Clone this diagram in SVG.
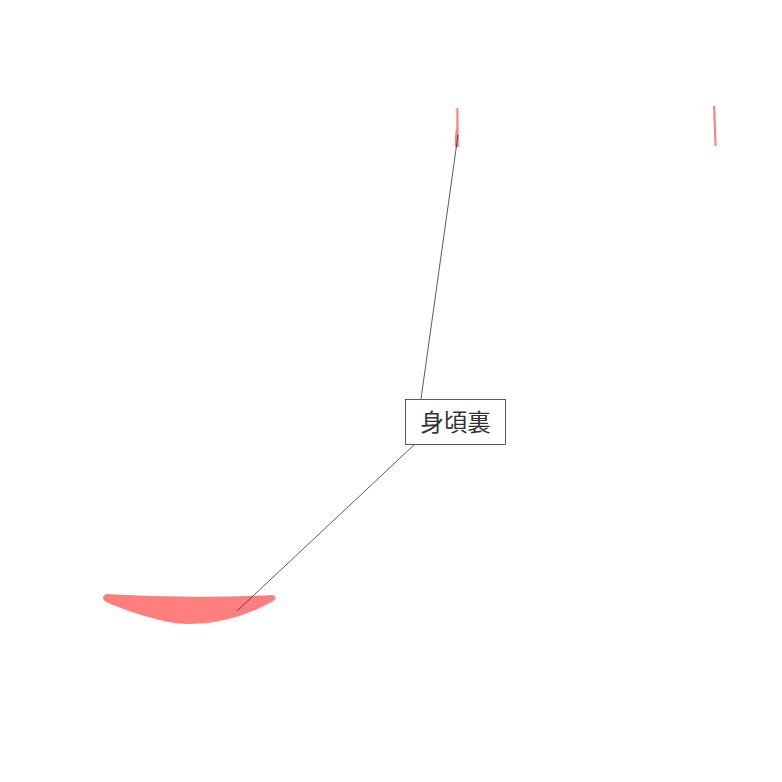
<svg xmlns="http://www.w3.org/2000/svg" width="782" height="782" viewBox="0 0 782 782">
<style>
.shape{fill:#ff7f7f;stroke:none}
.conn{stroke:#333;stroke-width:0.8;fill:none}
.box{fill:#fff;stroke:#333;stroke-width:0.8}
.lbl{font-family:"Liberation Sans","Noto Sans CJK JP",sans-serif;font-size:23.5px;fill:#333;text-anchor:middle}
</style>
<rect width="782" height="782" fill="#fff"/>
<g id="shapes">
<path class="shape" d="M456.4,108 L458.4,108 L458.8,147 L455,147 Q454.3,136 456.3,128 Z"/>
<path class="shape" d="M713,106 L715.2,106 L716.6,146 L714.5,146 Z"/>
<path class="shape" d="M106,594 Q190,599 272,595 Q279,597 273,601 Q232,624 190,624 Q160,624 108,603 Q99,598 106,594 Z"/>
</g>
<g id="connectors">
<line class="conn" x1="421" y1="399" x2="458" y2="135"/>
<line class="conn" x1="415" y1="444" x2="237" y2="611"/>
</g>
<g id="label">
<rect class="box" x="405.5" y="399.5" width="100" height="45"/>
<text class="lbl" x="455.5" y="431">身頃裏</text>
</g>
</svg>
